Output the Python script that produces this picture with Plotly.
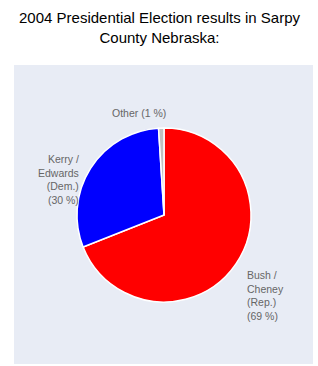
import plotly.graph_objects as go

candidates = ["Bush /<br>Cheney<br>(Rep.)", "Kerry /<br>Edwards<br>(Dem.)", "Other"]
shares = [69, 30, 1]
colors = ["#FF0000", "#0000FF", "#C0C0C0"]
title_text = "2004 Presidential Election results in Sarpy<br>County Nebraska:"

W, H = 318, 366

fig = go.Figure(go.Pie(
    labels=candidates, values=shares, sort=False, direction="clockwise", rotation=0,
    marker=dict(colors=colors, line=dict(color="white", width=1.5)),
    textinfo="none", hoverinfo="label+percent", showlegend=False,
    domain=dict(x=[77/W, 251/W], y=[(H-302)/H, (H-128)/H]),
))

def lbl(i):
    return f"{candidates[i]}<br>({shares[i]} %)" if i < 2 else f"{candidates[i]} ({shares[i]} %)"

font = dict(family="Liberation Sans, Arial", size=10.5, color="#666666")
annots = [
    dict(x=245/W, y=1-267/H, xanchor="left", yanchor="top", align="left", text=lbl(0), font=font),
    dict(x=81/W, y=1-151/H, xanchor="right", yanchor="top", align="right", text=lbl(1), font=font),
    dict(x=139/W, y=1-113/H, xanchor="center", yanchor="middle", align="center", text=lbl(2), font=font),
    dict(x=0.5, y=1-7/H, xanchor="center", yanchor="top", align="center", text=title_text,
         font=dict(family="Liberation Sans, Arial", size=15, color="#000000")),
]
for a in annots:
    a.update(xref="paper", yref="paper", showarrow=False)

fig.update_layout(
    width=W, height=H, margin=dict(l=0, r=0, t=0, b=0),
    paper_bgcolor="white",
    shapes=[dict(type="rect", xref="paper", yref="paper", x0=14/W, x1=313/W,
                 y0=1-364/H, y1=1-65/H, fillcolor="#E8ECF5", line=dict(width=0), layer="below")],
    annotations=annots,
)
fig.write_html("out.html")
